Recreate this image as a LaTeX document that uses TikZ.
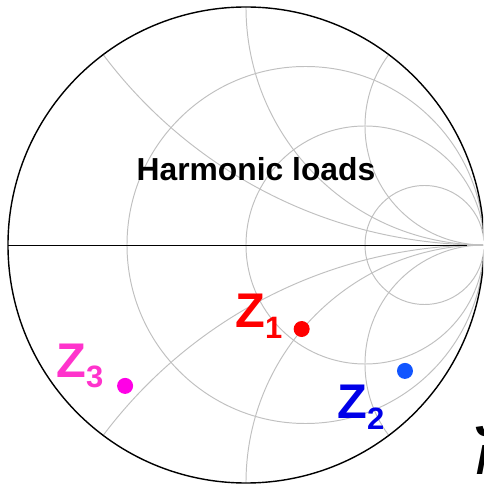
\documentclass[tikz,border=0pt]{standalone}
\usepackage{fontspec}
\setmainfont{Liberation Sans}
\usepackage{xcolor}
\definecolor{gridgray}{RGB}{192,192,192}
\definecolor{zred}{RGB}{255,0,0}
\definecolor{zblue}{RGB}{0,0,232}
\definecolor{zbluedot}{RGB}{17,85,255}
\definecolor{zmag}{RGB}{255,51,204}
\definecolor{zmagdot}{RGB}{255,0,230}

\newcommand{\zlab}[1]{{\fontsize{27.7}{30}\selectfont Z}\raisebox{-6.2pt}{\fontsize{17.6}{20}\selectfont #1}}

\begin{document}
\begin{tikzpicture}[scale=4.76, font=\bfseries,
    grid/.style={gridgray, line width=0.55pt},
    rim/.style={black, line width=0.8pt},
    dot/.style={circle, inner sep=0pt, minimum size=0.32cm},
    zlabel/.style={inner sep=0pt, anchor=base west},
]
\useasboundingbox (-1.0336,-1.0084) rectangle (0.9958,1.0294);
\clip (-1.0336,-1.0084) rectangle (0.9958,1.0294);

% ===== resistance circles =====
\foreach \r in {0.3333,1,3}{
    \draw[grid] ({\r/(1+\r)},0) circle ({1/(1+\r)});
}

% ===== reactance arcs =====
\begin{scope}
    \clip (0,0) circle (1);
    \foreach \x in {0.5,1,2}{
        \draw[grid] (1,{1/\x}) circle ({1/\x});
        \draw[grid] (1,{-1/\x}) circle ({1/\x});
    }
\end{scope}

% ===== rim and real axis =====
\draw[rim] (0,0) circle (1);
\coordinate (west) at (-1,0);
\coordinate (axend) at (0.93,0);
\coordinate (east) at (1,0);
\draw[black, line width=0.55pt] (west) -- (axend);
\draw[grid] (axend) -- (east);

% ===== loads =====
\node[font=\fontsize{18.1}{20}\selectfont\bfseries, anchor=base, inner sep=0pt]
    (title) at (0.042,0.269) {Harmonic loads};

\node[dot, fill=zred] (P1) at (0.234,-0.353) {};
\node[dot, fill=zbluedot] (P2) at (0.668,-0.529) {};
\node[dot, fill=zmagdot] (P3) at (-0.508,-0.592) {};

\node[zlabel, text=zred] (L1) at (-0.0462,-0.345) {\zlab{1}};
\node[zlabel, text=zblue] (L2) at (0.3824,-0.731) {\zlab{2}};
\node[zlabel, text=zmag] (L3) at (-0.798,-0.555) {\zlab{3}};

% ===== cut-off text at the edge =====
\node[zlabel] (J) at (0.962,-0.803) {\fontsize{27.7}{30}\selectfont J};
\node[zlabel] (M) at (0.966,-0.966) {\fontsize{24}{26}\selectfont\itshape M};

\end{tikzpicture}
\end{document}
